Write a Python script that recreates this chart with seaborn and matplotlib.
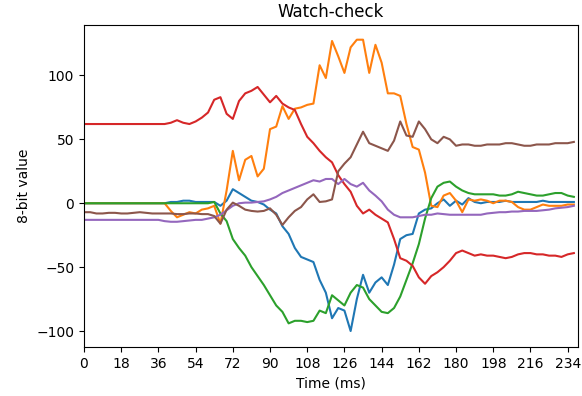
import numpy as np
import pandas as pd
import matplotlib
matplotlib.use("Agg")
import matplotlib.pyplot as plt
import seaborn as sns

time_ms = list(range(0, 240, 3))

series_blue = [0]*14 + [1, 1, 2, 2, 1, 1, 1, 1, -2, 2, 11, 8, 5, 2, 1, -1, -5, -8, -18, -24,
    -35, -42, -44, -46, -60, -70, -90, -82, -84, -100, -75, -56, -70, -62, -58, -64, -48, -28, -25, -24,
    -8, -5, -4, 0, 3, -2, 2, -1, 4, 1, 0, 1, 1, 1, 2, 1, 1, 1, 1, 1,
    2, 1, 1, 1, 1, 1]
series_orange = [0]*14 + [-6, -11, -9, -7, -8, -5, -4, -2, -16, 10, 41, 18, 34, 37, 21, 27, 58, 60, 76, 66,
    74, 75, 77, 78, 108, 98, 127, 115, 102, 122, 128, 128, 102, 124, 110, 86, 86, 84, 62, 44,
    42, 24, -2, -3, 6, 8, 2, -7, 3, 2, 3, 2, 0, 2, 2, 1, -3, -5, -5, -3,
    -1, -2, -2, -2, -1, -1]
series_green = [0]*21 + [1, -8, -14, -28, -35, -41, -50, -57, -64, -72, -80, -85, -94, -92, -92, -93, -92, -84, -86,
    -72, -76, -80, -70, -64, -66, -75, -80, -85, -86, -82, -73, -60, -47, -32, -12, 4, 13, 16, 17,
    13, 10, 8, 7, 7, 7, 7, 6, 6, 7, 9, 8, 7, 6, 6, 7, 8, 8, 6, 5]
series_red = [62]*14 + [63, 65, 63, 62, 64, 67, 71, 81, 83, 70, 66, 80, 86, 88, 91, 85, 79, 84, 78, 75,
    73, 62, 52, 47, 41, 36, 32, 22, 15, 9, -2, -8, -5, -9, -12, -15, -28, -43, -45, -49,
    -58, -63, -57, -54, -50, -45, -39, -37, -39, -41, -40, -41, -41, -42, -43, -42, -40, -39, -39, -40,
    -40, -41, -41, -42, -40, -39]
series_purple = [-13]*13 + [-14, -14.5, -14.5, -14, -13.5, -13, -13, -12, -11, -9, -5.5, -2, 0, 0.5, 0.5, 1, 1.5, 3,
    5, 8, 10, 12, 14, 16, 18, 17, 19, 19, 15, 19, 15, 13, 16, 10, 6, 1.5, -5, -9, -11, -11,
    -11, -10, -9, -9, -8, -8.5, -9, -9, -9, -9, -9, -9, -8, -7.5, -7, -7, -6.5, -6.5, -6, -6,
    -6, -5.5, -5, -4, -3.5, -3, -2]
series_brown = [-7, -7, -8, -8, -7.5, -7.5, -8, -8, -7.5, -7, -7.5, -8, -8, -8,
    -8, -8.5, -8.5, -8, -8, -8.5, -8.5, -10, -16, -5, 0.5, -2, -5, -6, -6.5, -6, -4, -9, -17, -11,
    -6, -3, 3, 7, 1, 1.5, 3, 25, 31, 36, 46, 56, 47, 45, 43, 41, 49, 64, 53, 52,
    64, 58, 50, 47, 52, 50, 45, 46, 46, 45, 45, 46, 46, 46, 47, 47, 46, 45, 45, 46,
    46, 46, 47, 47, 47, 48]

series_names = ["s1", "s2", "s3", "s4", "s5", "s6"]
series_values = [series_blue, series_orange, series_green, series_red, series_purple, series_brown]
x_ticks = list(range(0, 235, 18))

frames = []
for name, vals in zip(series_names, series_values):
    frames.append(pd.DataFrame({"time": time_ms, "value": vals, "series": name}))
df = pd.concat(frames, ignore_index=True)

fig = plt.figure(figsize=(5.82, 3.96), dpi=100)
ax = fig.add_axes([84/582, 1-347/396, (578-84)/582, (347-25)/396])
sns.lineplot(data=df, x="time", y="value", hue="series", palette=sns.color_palette("tab10", 6),
             legend=False, ax=ax, linewidth=1.5, estimator=None, sort=False)
ax.set_xlim(0, 239)
ax.set_ylim(-112.5, 139.5)
ax.set_xticks(x_ticks)
ax.set_yticks([-100, -50, 0, 50, 100])
ax.set_title("Watch-check", fontsize=12)
ax.set_xlabel("Time (ms)")
ax.set_ylabel("8-bit value")
fig.savefig("out.png", dpi=100)
